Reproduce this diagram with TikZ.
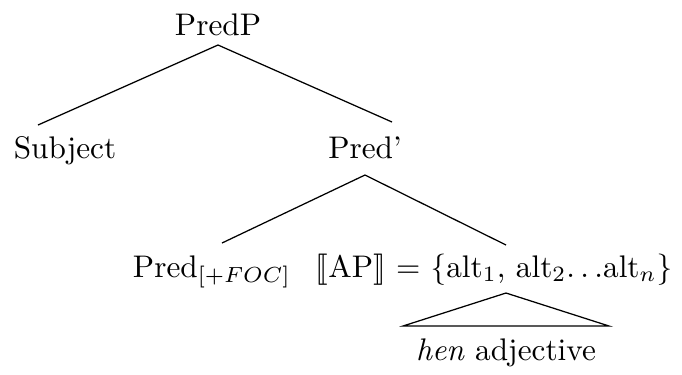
\documentclass[tikz,border=0pt]{standalone}
\usepackage{stmaryrd}
\begin{document}
\begin{tikzpicture}[x=0.32pt,y=-0.32pt,
  lbl/.style={anchor=base,inner sep=0pt},
  edge/.style={draw,line width=0.4pt}]
\useasboundingbox (0,0) rectangle (682,374);
\node[lbl] (predp) at (218,35) {PredP};
\node[lbl] (subj) at (65,158) {Subject};
\node[lbl] (predbar) at (365,158) {Pred'};
\node[lbl] (pred) at (212,277) {Pred$_{[+FOC]}$};
\node[lbl] (ap) at (494,277) {$\llbracket$AP$\rrbracket$ = \{alt$_1$, alt$_2$.\kern0.17em.\kern0.17em.alt$_n$\}};
\node[lbl] (hen) at (506,360) {\textit{hen} adjective};
\coordinate (p0) at (218,45);
\coordinate (s0) at (38,125);
\coordinate (b1) at (392,122);
\coordinate (b0) at (365,175);
\coordinate (pr1) at (222,243);
\coordinate (ap1) at (506,245);
\coordinate (ap0) at (506,293);
\coordinate (tl) at (403,326);
\coordinate (tr) at (609,326);
\draw[edge] (p0) -- (s0);
\draw[edge] (p0) -- (b1);
\draw[edge] (b0) -- (pr1);
\draw[edge] (b0) -- (ap1);
\draw[edge] (ap0) -- (tl) -- (tr) -- cycle;
\end{tikzpicture}
\end{document}
